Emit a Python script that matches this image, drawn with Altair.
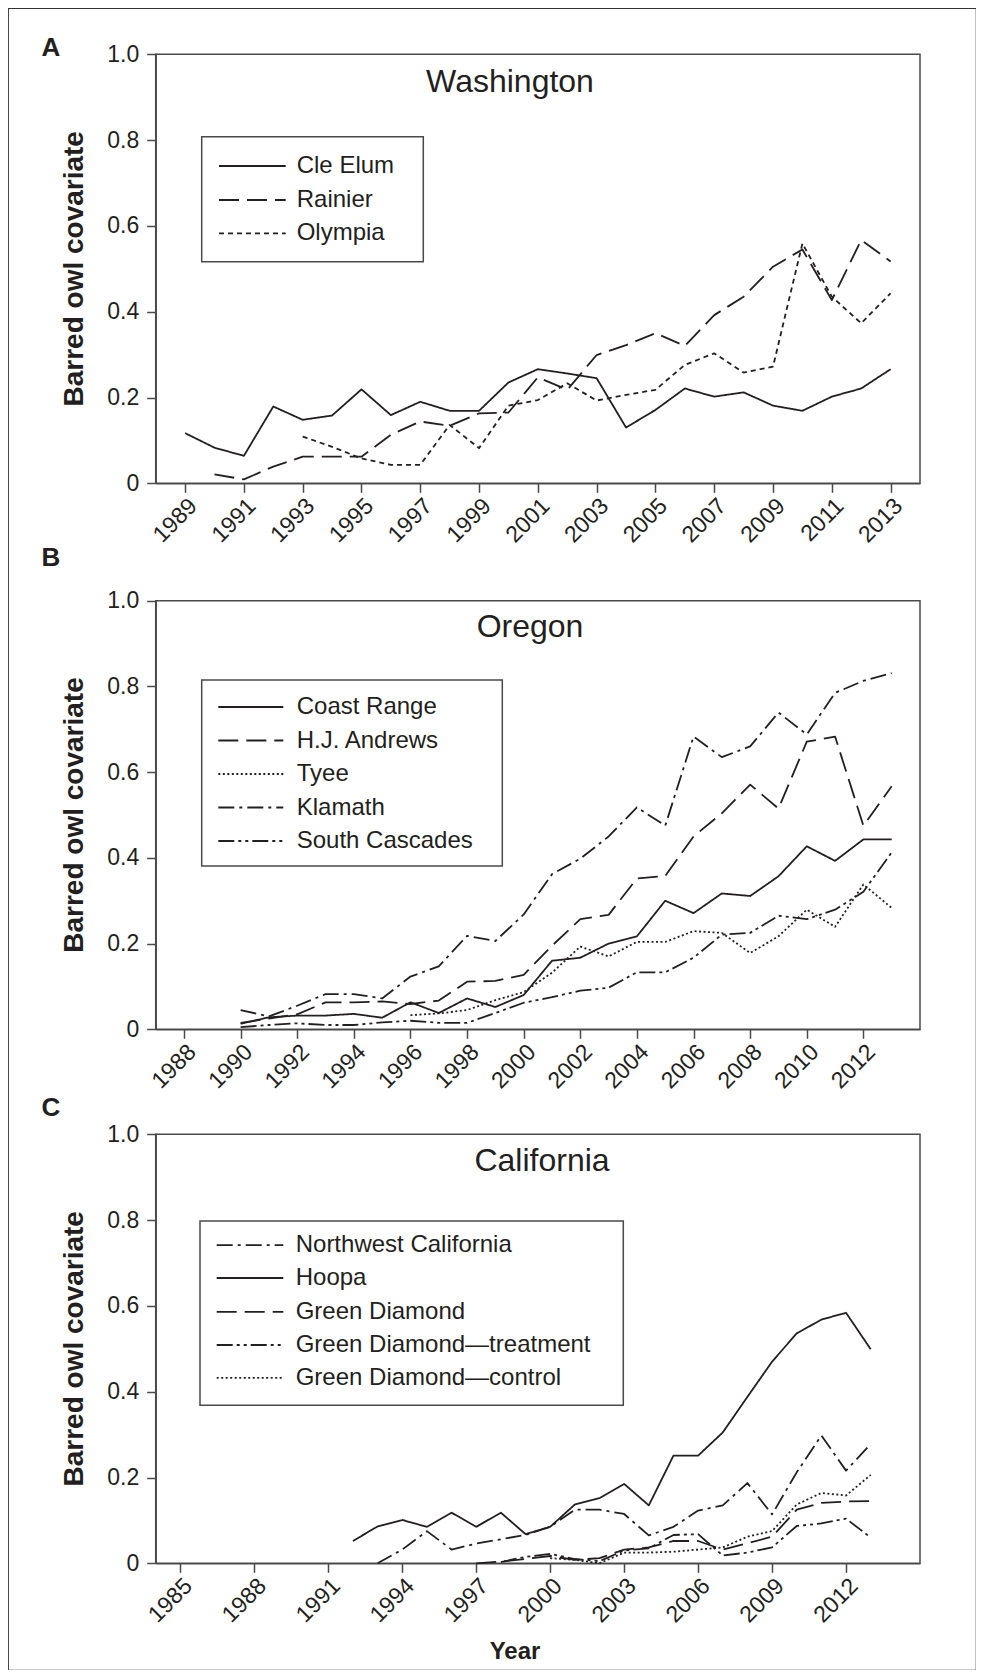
import altair as alt
import pandas as pd

FONT = "Liberation Sans"
INK = "#231f20"
AXC = "#4a4a4a"

# ---------------- data ----------------
# Panel A: Washington
wa_names = ["Cle Elum", "Rainier", "Olympia"]
cle_elum_years = list(range(1989, 2014))
cle_elum = [0.117, 0.083, 0.064, 0.179, 0.148, 0.158, 0.219, 0.159, 0.190, 0.169, 0.169, 0.235,
            0.266, 0.256, 0.245, 0.130, 0.171, 0.221, 0.202, 0.212, 0.181, 0.169, 0.202, 0.221, 0.266]
rainier_years = list(range(1990, 2014))
rainier = [0.021, 0.009, 0.039, 0.062, 0.062, 0.062, 0.113, 0.144, 0.134, 0.163, 0.165, 0.247,
           0.218, 0.299, 0.322, 0.350, 0.320, 0.392, 0.435, 0.505, 0.545, 0.427, 0.567, 0.517]
olympia_years = list(range(1993, 2014))
olympia = [0.109, 0.085, 0.058, 0.043, 0.043, 0.136, 0.082, 0.181, 0.194, 0.233, 0.193, 0.206,
           0.218, 0.276, 0.303, 0.258, 0.272, 0.559, 0.435, 0.373, 0.443]

# Panel B: Oregon
or_names = ["Coast Range", "H.J. Andrews", "Tyee", "Klamath", "South Cascades"]
or_years = list(range(1990, 2014))
coast_range = [0.013, 0.028, 0.032, 0.032, 0.036, 0.027, 0.063, 0.038, 0.072, 0.052, 0.080, 0.160,
               0.167, 0.200, 0.217, 0.300, 0.271, 0.317, 0.311, 0.357, 0.427, 0.393, 0.443, 0.443]
hj_andrews = [0.015, 0.025, 0.035, 0.063, 0.063, 0.065, 0.059, 0.067, 0.111, 0.113, 0.127, 0.195,
              0.257, 0.267, 0.352, 0.358, 0.450, 0.504, 0.571, 0.515, 0.671, 0.683, 0.475, 0.567]
tyee_years = list(range(1996, 2014))
tyee = [0.033, 0.037, 0.045, 0.068, 0.087, 0.132, 0.193, 0.170, 0.204, 0.204, 0.229, 0.225,
        0.178, 0.217, 0.279, 0.239, 0.338, 0.283]
klamath = [0.045, 0.030, 0.055, 0.082, 0.082, 0.072, 0.123, 0.147, 0.218, 0.206, 0.268, 0.362,
           0.398, 0.450, 0.518, 0.475, 0.683, 0.635, 0.660, 0.739, 0.688, 0.785, 0.813, 0.831]
south_cascades = [0.005, 0.010, 0.014, 0.010, 0.010, 0.016, 0.020, 0.015, 0.015, 0.038, 0.062, 0.075,
                  0.090, 0.097, 0.133, 0.133, 0.167, 0.221, 0.225, 0.265, 0.257, 0.279, 0.321, 0.413]

# Panel C: California
ca_names = ["Northwest California", "Hoopa", "Green Diamond",
            "Green Diamond\u2014treatment", "Green Diamond\u2014control"]
hoopa_years = list(range(1992, 2014))
hoopa = [0.052, 0.086, 0.101, 0.085, 0.118, 0.085, 0.118, 0.068, 0.085, 0.137, 0.152, 0.185,
         0.135, 0.251, 0.251, 0.305, 0.388, 0.470, 0.536, 0.568, 0.584, 0.499]
nwc_years = list(range(1993, 2014))
nw_california = [0.0, 0.032, 0.075, 0.032, 0.046, 0.056, 0.066, 0.085, 0.125, 0.125, 0.115, 0.065,
                 0.085, 0.123, 0.135, 0.187, 0.114, 0.212, 0.298, 0.216, 0.278]
gd_years = list(range(1997, 2014))
green_diamond = [0.0, 0.004, 0.010, 0.017, 0.008, 0.012, 0.032, 0.037, 0.052, 0.052, 0.032, 0.047,
                 0.062, 0.125, 0.141, 0.144, 0.145]
gdt_years = list(range(1998, 2014))
gd_treatment = [0.003, 0.015, 0.022, 0.010, 0.005, 0.030, 0.035, 0.066, 0.068, 0.018, 0.025, 0.037,
                0.087, 0.093, 0.104, 0.060]
gdc_years = list(range(2000, 2014))
gd_control = [0.012, 0.008, 0.0, 0.025, 0.025, 0.027, 0.032, 0.037, 0.062, 0.075, 0.137, 0.164,
              0.158, 0.206]

y_ticks = [0, 0.2, 0.4, 0.6, 0.8, 1.0]
xa_ticks = list(range(1989, 2014, 2))
xb_ticks = list(range(1988, 2013, 2))
xc_ticks = list(range(1985, 2013, 3))

# ---------------- styles ----------------
SOLID = [1, 0]
DASH = [20, 8]
SHORTDASH = [5, 4]
DOT = [2, 2.5]
DASHDOT = [16, 5, 3, 5]
DASHDOTDOT = [16, 4, 3, 4, 3, 4]

wa_dash = [SOLID, DASH, SHORTDASH]
or_dash = [SOLID, DASH, DOT, DASHDOT, DASHDOTDOT]
ca_dash = [DASHDOT, SOLID, DASH, DASHDOTDOT, DOT]

W, H = 968, 1662
PL, PR = 147.7, 912.0
PANELS = {"A": (46.3, 475.3), "B": (592.7, 1021.3), "C": (1126.3, 1555.3)}


def long_df(series):
    rows = []
    for name, (yrs, vals) in series.items():
        for yr, v in zip(yrs, vals):
            rows.append({"series": name, "year": yr, "value": v})
    return pd.DataFrame(rows)


df_a = long_df({"Cle Elum": (cle_elum_years, cle_elum), "Rainier": (rainier_years, rainier),
                "Olympia": (olympia_years, olympia)})
df_b = long_df({"Coast Range": (or_years, coast_range), "H.J. Andrews": (or_years, hj_andrews),
                "Tyee": (tyee_years, tyee), "Klamath": (or_years, klamath),
                "South Cascades": (or_years, south_cascades)})
df_c = long_df({ca_names[0]: (nwc_years, nw_california), ca_names[1]: (hoopa_years, hoopa),
                ca_names[2]: (gd_years, green_diamond), ca_names[3]: (gdt_years, gd_treatment),
                ca_names[4]: (gdc_years, gd_control)})

one = pd.DataFrame({"k": [0]})


def lines(df, names, dashes, xdom, xticks, key):
    top, bottom = PANELS[key]
    return alt.Chart(df).mark_line(strokeWidth=1.8, color=INK, strokeJoin="round").encode(
        x=alt.X("year:Q",
                scale=alt.Scale(domain=xdom, range=[PL, PR], nice=False, zero=False),
                axis=alt.Axis(values=xticks, format="d", orient="bottom", offset=bottom - H,
                              labelAngle=315, labelAlign="right", labelBaseline="top",
                              labelPadding=2, labelOverlap=False, labelFlush=False,
                              title=None, grid=False)),
        y=alt.Y("value:Q",
                scale=alt.Scale(domain=[0, 1], range=[bottom, top], nice=False, zero=False),
                axis=alt.Axis(values=y_ticks, orient="left", offset=-PL, title=None, grid=False,
                              labelPadding=8, labelOverlap=False, labelFlush=False,
                              labelExpr="datum.value == 0 ? '0' : format(datum.value, '.1f')")),
        strokeDash=alt.StrokeDash("series:N", scale=alt.Scale(domain=names, range=dashes),
                                  legend=None),
    )


def box(x1, x2, y1, y2, width=1.5):
    return alt.Chart(one).mark_rect(fillOpacity=0, stroke=AXC, strokeWidth=width).encode(
        x=alt.value(x1), x2=alt.value(x2), y=alt.value(y1), y2=alt.value(y2))


def text(s, x, y, size=24, bold=False, align="left", baseline="middle", angle=0):
    kw = dict(align=align, baseline=baseline, font=FONT, fontSize=size, color=INK,
              fontWeight="bold" if bold else "normal")
    if angle:
        kw["angle"] = angle
    return alt.Chart(one).mark_text(**kw).encode(x=alt.value(x), y=alt.value(y), text=alt.value(s))


def legend(names, dashes, bx1, bx2, by1, by2, lx1, lx2, tx, rows):
    parts = [box(bx1, bx2, by1, by2)]
    for name, dash, ry in zip(names, dashes, rows):
        parts.append(alt.Chart(one).mark_rule(strokeDash=dash, strokeWidth=1.8, color=INK).encode(
            x=alt.value(lx1), x2=alt.value(lx2), y=alt.value(ry)))
        parts.append(text(name, tx, ry))
    return parts


layers = []
for key in "ABC":
    t, b = PANELS[key]
    layers.append(box(PL, PR, t, b))
    layers.append(text("Barred owl covariate", 67, (t + b) / 2, size=28, bold=True,
                       align="center", angle=270))

layers.append(lines(df_a, wa_names, wa_dash, [1988, 2014], xa_ticks, "A"))
layers.append(lines(df_b, or_names, or_dash, [1987, 2014], xb_ticks, "B"))
layers.append(lines(df_c, ca_names, ca_dash, [1984, 2015], xc_ticks, "C"))

layers.append(text("A", 43, 40, size=26, bold=True, align="center"))
layers.append(text("B", 43, 550, size=26, bold=True, align="center"))
layers.append(text("C", 43, 1100, size=26, bold=True, align="center"))

layers.append(text("Washington", 502, 84, size=32, align="center", baseline="alphabetic"))
layers.append(text("Oregon", 522, 629, size=32, align="center", baseline="alphabetic"))
layers.append(text("California", 534, 1163, size=32, align="center", baseline="alphabetic"))

layers += legend(wa_names, wa_dash, 193.7, 415.3, 128.7, 253.7, 211, 277.7, 288.7,
                 [158, 192, 225.3])
layers += legend(or_names, or_dash, 193.7, 494.3, 672, 858, 210.3, 275.3, 288.7,
                 [699, 732.5, 766, 799.5, 833])
layers += legend(ca_names, ca_dash, 192, 615.3, 1213, 1397.3, 208.7, 275.3, 287.7,
                 [1237.2, 1270, 1303.9, 1337, 1369.9])

layers.append(text("Year", 507, 1644, size=24, bold=True, align="center"))

chart = alt.layer(*layers).resolve_scale(
    x="independent", y="independent", strokeDash="independent"
).properties(
    width=W, height=H, padding=0,
    autosize=alt.AutoSizeParams(type="none"),
).configure_view(
    stroke="#333333", strokeWidth=1.2
).configure_axis(
    domainColor=AXC, domainWidth=1.5, tickColor=AXC, tickWidth=1.5, tickSize=9,
    labelFont=FONT, labelFontSize=23, labelColor=INK,
)

chart.save("out.html", embed_options={"renderer": "svg", "actions": False})
